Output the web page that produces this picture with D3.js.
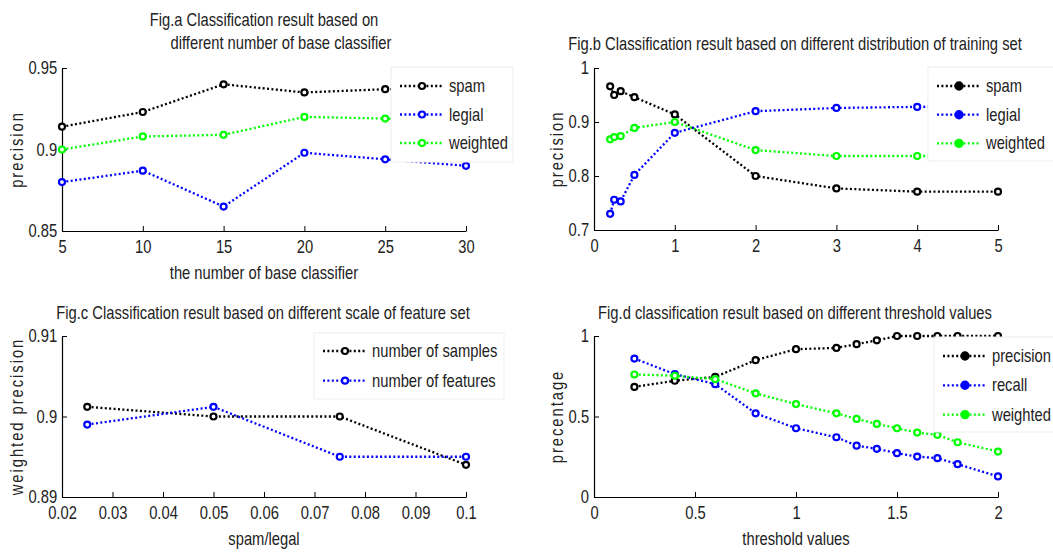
<!DOCTYPE html>
<html>
<head>
<meta charset="utf-8">
<script src="https://cdn.jsdelivr.net/npm/d3@7"></script>
<style>
  html, body { margin: 0; padding: 0; background: #fff; }
  svg text { font-family: "Liberation Sans", Arial, Helvetica, sans-serif; fill: #222; }
</style>
</head>
<body>
<svg id="chart" width="1053" height="554"></svg>
<script>
/* ---------- data ---------- */

// Fig.a
const aX        = [5, 10, 15, 20, 25, 30];
const aSpam     = [0.914, 0.923, 0.940, 0.935, 0.937, 0.937];
const aLegial   = [0.880, 0.887, 0.865, 0.898, 0.894, 0.890];
const aWeighted = [0.900, 0.908, 0.909, 0.920, 0.919, 0.919];

// Fig.b
const bX        = [0.2, 0.25, 0.33, 0.5, 1, 2, 3, 4, 5];
const bSpam     = [0.966, 0.950, 0.957, 0.946, 0.914, 0.800, 0.777, 0.771, 0.771];
const bLegial   = [0.730, 0.756, 0.753, 0.802, 0.880, 0.920, 0.926, 0.928, 0.930];
const bWeighted = [0.868, 0.872, 0.874, 0.889, 0.900, 0.848, 0.837, 0.837, 0.837];

// Fig.c
const cX        = [0.025, 0.05, 0.075, 0.1];
const cSamples  = [0.9012, 0.900, 0.900, 0.894];
const cFeatures = [0.899, 0.9012, 0.895, 0.895];

// Fig.d
const dX         = [0.2, 0.4, 0.6, 0.8, 1.0, 1.2, 1.3, 1.4, 1.5, 1.6, 1.7, 1.8, 2.0];
const dPrecision = [0.684, 0.722, 0.746, 0.850, 0.918, 0.926, 0.949, 0.973, 1, 1, 1, 1, 1];
const dRecall    = [0.860, 0.763, 0.701, 0.520, 0.427, 0.371, 0.319, 0.299, 0.272, 0.251, 0.241, 0.204, 0.128];
const dWeighted  = [0.761, 0.753, 0.732, 0.644, 0.577, 0.520, 0.485, 0.454, 0.427, 0.400, 0.386, 0.340, 0.282];

// ticks
const aXTicks = [5, 10, 15, 20, 25, 30];
const aYTicks = [0.85, 0.9, 0.95];
const bXTicks = [0, 1, 2, 3, 4, 5];
const bYTicks = [0.7, 0.8, 0.9, 1];
const cXTicks = [0.02, 0.03, 0.04, 0.05, 0.06, 0.07, 0.08, 0.09, 0.1];
const cYTicks = [0.89, 0.9, 0.91];
const dXTicks = [0, 0.5, 1, 1.5, 2];
const dYTicks = [0, 0.5, 1];

const BLACK = '#000000', BLUE = '#0000ff', GREEN = '#00ff00';
const FS = 18;     // font size
const SX = 0.82;   // horizontal squeeze, the figure uses a narrow face

const svg = d3.select('#chart');
svg.append('rect').attr('width', 1053).attr('height', 554).attr('fill', '#fff');

// narrow text helper
function txt(g, x, y, str, anchor = 'start', extra = '') {
  return g.append('text')
    .attr('transform', `translate(${x},${y}) ${extra} scale(${SX},1)`)
    .attr('text-anchor', anchor)
    .style('font-size', FS + 'px')
    .text(str);
}

/* ---------- one panel ---------- */
function panel(o) {
  const x = d3.scaleLinear().domain(o.xDomain).range([o.x0, o.x1]);
  const y = d3.scaleLinear().domain(o.yDomain).range([o.y1, o.y0]);
  const g = svg.append('g');

  // axes (MATLAB style, box off, ticks inward)
  const ax = g.append('g').attr('transform', `translate(0,${o.y1})`)
    .call(d3.axisBottom(x).tickValues(o.xTicks).tickSizeInner(-5).tickSizeOuter(0)
      .tickPadding(9).tickFormat(d3.format('~g')));
  const ay = g.append('g').attr('transform', `translate(${o.x0},0)`)
    .call(d3.axisLeft(y).tickValues(o.yTicks).tickSizeInner(-5).tickSizeOuter(0)
      .tickPadding(6).tickFormat(d3.format('~g')));
  [ax, ay].forEach(a => {
    a.select('.domain').attr('stroke', '#000').attr('stroke-width', 1.2);
    a.selectAll('.tick line').attr('stroke', '#000');
    a.selectAll('text').style('font-size', FS + 'px').attr('fill', '#222')
      .attr('transform', `scale(${SX},1)`);
  });
  ax.selectAll('text').attr('dy', '0.71em');

  // series
  o.series.forEach(s => {
    const pts = o.xs.map((v, i) => [v, s.values[i]]);
    g.append('path').datum(pts)
      .attr('fill', 'none').attr('stroke', s.color).attr('stroke-width', 2.3)
      .attr('stroke-dasharray', '2,2.4')
      .attr('d', d3.line().x(d => x(d[0])).y(d => y(d[1])));
    g.selectAll(null).data(pts).join('circle')
      .attr('cx', d => x(d[0])).attr('cy', d => y(d[1])).attr('r', 3)
      .attr('fill', '#fff').attr('stroke', s.color).attr('stroke-width', 2.2);
  });

  // titles and labels
  o.title.forEach(t => txt(g, t.x, t.y, t.text, 'middle'));
  if (o.xLabel) txt(g, (o.x0 + o.x1) / 2, o.y1 + 48, o.xLabel, 'middle');
  txt(g, o.yLabelX, (o.y0 + o.y1) / 2, o.yLabel, 'middle', 'rotate(-90)')
    .style('letter-spacing', '2.4px');

  // legend
  const L = o.legend;
  const lg = g.append('g');
  lg.append('rect').attr('x', L.x).attr('y', L.y).attr('width', L.w).attr('height', L.h)
    .attr('fill', '#fff').attr('stroke', '#eeeeee');
  o.series.forEach((s, i) => {
    const yy = L.y + L.first + i * L.step;
    lg.append('line').attr('x1', L.x + 9).attr('x2', L.x + 53).attr('y1', yy).attr('y2', yy)
      .attr('stroke', s.color).attr('stroke-width', 2.3).attr('stroke-dasharray', '2,2.4');
    lg.append('circle').attr('cx', L.x + 31).attr('cy', yy).attr('r', L.filled ? 3.6 : 3)
      .attr('fill', L.filled ? s.color : '#fff').attr('stroke', s.color).attr('stroke-width', 2.2);
    txt(lg, L.x + 58, yy + 6, s.name);
  });
}

/* ---------- Fig.a ---------- */
panel({
  x0: 62, x1: 466, y0: 68, y1: 231,
  xDomain: [5, 30], yDomain: [0.85, 0.95],
  xTicks: aXTicks, yTicks: aYTicks, xs: aX,
  series: [
    { name: 'spam', color: BLACK, values: aSpam },
    { name: 'legial', color: BLUE, values: aLegial },
    { name: 'weighted', color: GREEN, values: aWeighted },
  ],
  title: [
    { text: 'Fig.a Classification result based on', x: 264, y: 26 },
    { text: 'different number of base classifier', x: 281, y: 49 },
  ],
  xLabel: 'the number of base classifier',
  yLabel: 'precision', yLabelX: 23,
  legend: { x: 391, y: 67, w: 122, h: 95, first: 19, step: 28.5, filled: false },
});

/* ---------- Fig.b ---------- */
panel({
  x0: 594, x1: 998, y0: 68, y1: 230,
  xDomain: [0, 5], yDomain: [0.7, 1],
  xTicks: bXTicks, yTicks: bYTicks, xs: bX,
  series: [
    { name: 'spam', color: BLACK, values: bSpam },
    { name: 'legial', color: BLUE, values: bLegial },
    { name: 'weighted', color: GREEN, values: bWeighted },
  ],
  title: [
    { text: 'Fig.b Classification result based on different distribution of training set', x: 795, y: 50 },
  ],
  xLabel: null,
  yLabel: 'precision', yLabelX: 563,
  legend: { x: 928, y: 67, w: 130, h: 94, first: 19, step: 28.7, filled: true },
});

/* ---------- Fig.c ---------- */
panel({
  x0: 62, x1: 466, y0: 336, y1: 497,
  xDomain: [0.02, 0.1], yDomain: [0.89, 0.91],
  xTicks: cXTicks, yTicks: cYTicks, xs: cX,
  series: [
    { name: 'number of samples', color: BLACK, values: cSamples },
    { name: 'number of features', color: BLUE, values: cFeatures },
  ],
  title: [
    { text: 'Fig.c Classification result based on different scale of feature set', x: 263, y: 319 },
  ],
  xLabel: 'spam/legal',
  yLabel: 'weighted precision', yLabelX: 23,
  legend: { x: 314, y: 333, w: 190, h: 66, first: 18, step: 29.7, filled: false },
});

/* ---------- Fig.d ---------- */
panel({
  x0: 594, x1: 998, y0: 336, y1: 497,
  xDomain: [0, 2], yDomain: [0, 1],
  xTicks: dXTicks, yTicks: dYTicks, xs: dX,
  series: [
    { name: 'precision', color: BLACK, values: dPrecision },
    { name: 'recall', color: BLUE, values: dRecall },
    { name: 'weighted', color: GREEN, values: dWeighted },
  ],
  title: [
    { text: 'Fig.d classification result based on different threshold values', x: 795, y: 319 },
  ],
  xLabel: 'threshold values',
  yLabel: 'precentage', yLabelX: 563,
  legend: { x: 934, y: 337, w: 125, h: 95, first: 19, step: 29.3, filled: true },
});
</script>
</body>
</html>
